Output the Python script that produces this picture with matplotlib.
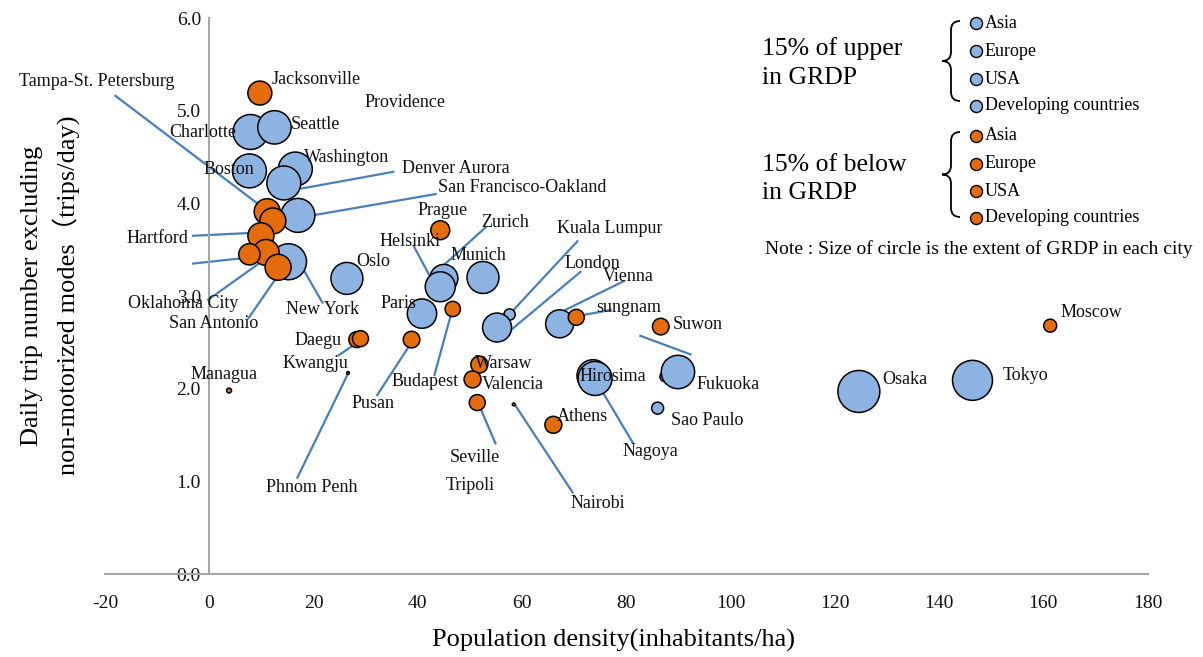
import numpy as np
import matplotlib
matplotlib.use("Agg")
import matplotlib.pyplot as plt
from matplotlib.path import Path
from matplotlib.patches import PathPatch

plt.rcParams['font.family'] = ['Liberation Serif', 'DejaVu Serif']
plt.rcParams['axes.unicode_minus'] = False

#=============#
# City data   #
#=============#

# upper 15% in GRDP (blue)
blue_x = [7.9, 12.5, 7.7, 16.5, 14.3, 17.0, 15.2, 26.4, 40.8, 45.0, 44.3, 52.5,
          57.6, 55.2, 67.2, 73.6, 74.0, 87.4, 89.9, 86.0, 124.6, 146.4]
blue_y = [4.77, 4.82, 4.35, 4.37, 4.22, 3.87, 3.37, 3.19, 2.81, 3.19, 3.10, 3.20,
          2.80, 2.66, 2.70, 2.14, 2.11, 2.13, 2.18, 1.79, 1.97, 2.09]
blue_grdp = [306, 279, 289, 289, 289, 289, 324, 256, 216, 196, 225, 256,
             32, 210, 196, 256, 289, 25, 279, 36, 441, 400]

# lower 15% in GRDP (orange)
orange_x = [9.7, 11.1, 12.2, 9.9, 10.9, 7.7, 13.2, 44.3, 46.7, 28.3, 29.0, 38.8,
            26.6, 3.8, 51.8, 50.5, 51.4, 58.4, 66.0, 70.4, 86.6, 161.3]
orange_y = [5.19, 3.91, 3.81, 3.65, 3.47, 3.45, 3.31, 3.71, 2.86, 2.53, 2.54, 2.53,
            2.17, 1.98, 2.26, 2.10, 1.85, 1.83, 1.61, 2.77, 2.67, 2.68]
orange_grdp = [144, 169, 169, 169, 169, 114, 169, 90, 59, 64, 64, 69,
               2, 6, 72, 72, 64, 2, 72, 64, 69, 42]

# city labels (text, x, y)
labels = [
    ("Tampa-St. Petersburg", -21.5, 5.32), ("Jacksonville", 20.5, 5.34),
    ("Providence", 37.6, 5.09), ("Charlotte", -1.2, 4.76), ("Seattle", 20.3, 4.85),
    ("Boston", 3.8, 4.36), ("Washington", 26.3, 4.50), ("Denver Aurora", 47.2, 4.38),
    ("San Francisco-Oakland", 60.1, 4.17), ("Prague", 44.7, 3.92), ("Zurich", 56.8, 3.79),
    ("Kuala Lumpur", 76.8, 3.73), ("Helsinki", 38.6, 3.59), ("Hartford", -10.0, 3.62),
    ("Munich", 51.6, 3.44), ("London", 73.5, 3.35), ("Oslo", 31.5, 3.37),
    ("Vienna", 80.4, 3.21), ("Oklahoma City", -5.0, 2.92), ("New York", 21.7, 2.85),
    ("Paris", 36.3, 2.92), ("sungnam", 80.4, 2.88), ("San Antonio", 0.8, 2.70),
    ("Suwon", 93.7, 2.69), ("Daegu", 20.9, 2.52), ("Kwangju", 20.3, 2.27),
    ("Warsaw", 56.4, 2.27), ("Managua", 2.9, 2.15), ("Hirosima", 77.5, 2.13),
    ("Valencia", 58.3, 2.05), ("Fukuoka", 99.6, 2.04), ("Budapest", 41.3, 2.08),
    ("Osaka", 133.4, 2.10), ("Tokyo", 156.6, 2.14), ("Moscow", 169.3, 2.82),
    ("Pusan", 31.5, 1.84), ("Athens", 71.6, 1.70), ("Sao Paulo", 95.6, 1.66),
    ("Nagoya", 84.6, 1.32), ("Seville", 50.9, 1.26), ("Tripoli", 50.1, 0.95),
    ("Phnom Penh", 19.6, 0.93), ("Nairobi", 74.5, 0.76),
]

# leader lines (x0, y0, x1, y1)
leaders = [
    (-18.0, 5.16, 9.2, 4.00), (-3.1, 3.65, 7.7, 3.68), (-3.1, 3.35, 6.7, 3.41),
    (-0.2, 2.96, 10.0, 3.37), (7.5, 2.76, 13.4, 3.24), (21.7, 2.93, 17.7, 3.32),
    (17.7, 4.16, 35.3, 4.34), (19.8, 3.87, 43.4, 4.10), (39.2, 3.54, 43.4, 3.10),
    (53.0, 3.74, 45.3, 3.35), (70.6, 3.59, 58.2, 2.84), (71.2, 3.26, 57.8, 2.63),
    (79.5, 3.16, 68.3, 2.85), (72.2, 2.80, 77.0, 2.85), (82.7, 2.57, 92.3, 2.37),
    (24.8, 2.36, 29.0, 2.52), (16.9, 1.04, 26.5, 2.15), (32.2, 1.93, 38.8, 2.50),
    (43.2, 2.15, 46.6, 2.85), (54.9, 1.41, 52.0, 1.79), (69.7, 0.88, 58.7, 1.82),
    (81.2, 1.42, 75.6, 1.95),
]

regions = ["Asia", "Europe", "USA", "Developing countries"]

blue = '#8DB3E2'
orange = '#E46C0A'
line_c = '#4A7EBB'

#==============#
# Diagram Plot #
#==============#

fig = plt.figure(figsize=(12.03, 6.57), dpi=100)
ax = fig.add_axes([0.0873, 0.1263, 0.8667, 0.8463])

for x0, y0, x1, y1 in leaders:
    ax.plot([x0, x1], [y0, y1], color=line_c, lw=1.6, zorder=1, clip_on=False)

ax.scatter(blue_x, blue_y, s=np.array(blue_grdp) * 2.07, c=blue,
           edgecolors='black', linewidths=1.1, zorder=2, clip_on=False)
ax.scatter(orange_x, orange_y, s=np.array(orange_grdp) * 2.07, c=orange,
           edgecolors='black', linewidths=1.1, zorder=3, clip_on=False)

for txt, lx, ly in labels:
    ax.text(lx, ly, txt, ha='center', va='center', fontsize=13, zorder=4,
            color='#111111', clip_on=False)

ax.set_xlim(-20, 180)
ax.set_ylim(0, 6)
ax.set_xticks(np.arange(-20, 181, 20))
ax.set_yticks(np.arange(0, 6.1, 1))
ax.set_yticklabels([f"{v:.1f}" for v in np.arange(0, 6.1, 1)])
ax.spines['left'].set_position(('data', 0))
for s in ['top', 'right']:
    ax.spines[s].set_visible(False)
for s in ['left', 'bottom']:
    ax.spines[s].set_color('#A6A6A6')
    ax.spines[s].set_linewidth(1.5)
ax.tick_params(axis='both', length=0, labelsize=14, colors='#111111')
ax.tick_params(axis='x', pad=15)
ax.tick_params(axis='y', pad=6)

fig.text(0.51, 0.025, "Population density(inhabitants/ha)", ha='center', va='center',
         fontsize=19)
fig.text(0.027, 0.55, "Daily trip number excluding", rotation=90,
         ha='center', va='center', fontsize=19)
fig.text(0.056, 0.55, "non-motorized modes（trips/day)", rotation=90,
         ha='center', va='center', fontsize=19,
         family=['Liberation Serif', 'Noto Sans CJK JP'])

#========#
# Legend #
#========#

lg = fig.add_axes([0, 0, 1, 1], zorder=5)
lg.set_xlim(0, 1203)
lg.set_ylim(657, 0)
lg.axis('off')


def brace(xc, y0, y1, w=9):
    ym = (y0 + y1) / 2
    verts = [(xc + w, y0), (xc, y0), (xc, y0 + w), (xc, ym - w),
             (xc, ym), (xc - w, ym), (xc, ym), (xc, ym + w),
             (xc, y1 - w), (xc, y1), (xc + w, y1)]
    codes = [Path.MOVETO, Path.CURVE3, Path.CURVE3, Path.LINETO,
             Path.CURVE3, Path.CURVE3, Path.CURVE3, Path.CURVE3,
             Path.LINETO, Path.CURVE3, Path.CURVE3]
    lg.add_patch(PathPatch(Path(verts, codes), fc='none', ec='black', lw=1.3))


groups = [("15% of upper\nin GRDP", blue, 63, [23, 51, 79, 106], (21, 101)),
          ("15% of below\nin GRDP", orange, 179, [136, 164, 191, 218], (132, 217))]
for title, col, ty, ys, (b0, b1) in groups:
    lg.text(762, ty, title, ha='left', va='center', fontsize=18.5, linespacing=1.4)
    brace(951, b0, b1)
    lg.scatter([976] * 4, ys, s=75, c=col, edgecolors='black', linewidths=1.0)
    for yy, r in zip(ys, regions):
        lg.text(985, yy, r, ha='left', va='center', fontsize=13)

lg.text(979, 249, "Note : Size of circle is the extent of GRDP in each city",
        ha='center', va='center', fontsize=14)

plt.savefig('out.png', dpi=100)
